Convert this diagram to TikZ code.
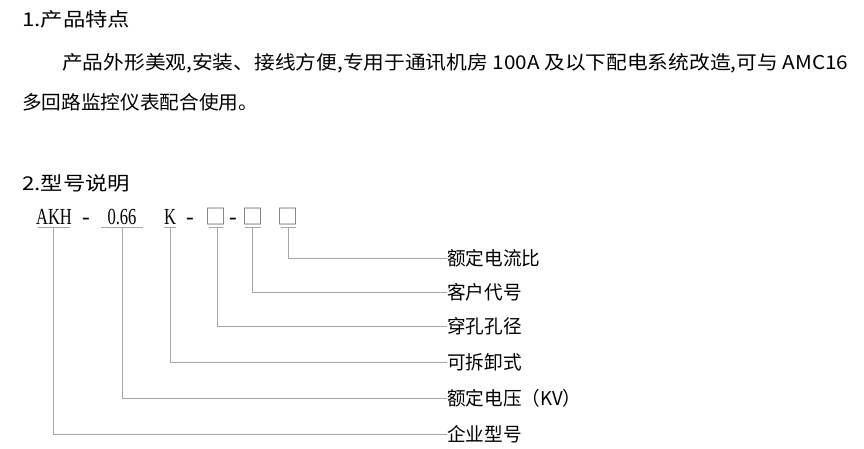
\documentclass[tikz,border=0pt]{standalone}
\usepackage{fontspec}
\setmainfont{Noto Sans CJK SC}
\newfontfamily\codefont{Liberation Serif}
\begin{document}
\begin{tikzpicture}[x=1pt,y=-1pt,
  txt/.style={anchor=base west,inner sep=0pt,font=\fontsize{19}{22}\selectfont},
  code/.style={anchor=base,inner sep=0pt,font=\codefont\fontsize{23}{25}\selectfont},
  bx/.style={anchor=base,inner sep=0pt,font=\fontsize{21}{23}\selectfont,text=gray!80!black},
  ln/.style={draw=gray!70,line width=0.9pt}]
\useasboundingbox[fill=white] (0,0) rectangle (864,449);
\node[txt] (t1) at (22,27) {\resizebox{108pt}{\height}{1.产品特点}};
\node[txt] (t2) at (62,70) {\resizebox{786pt}{\height}{产品外形美观,安装、接线方便,专用于通讯机房 100A 及以下配电系统改造,可与 AMC16}};
\node[txt] (t3) at (22,110) {\resizebox{236pt}{\height}{多回路监控仪表配合使用。}};
\node[txt] (t4) at (22,190) {\resizebox{108pt}{\height}{2.型号说明}};
% code
\node[code] (c1) at (54,224) {\scalebox{0.72}[1]{AKH}};
\node[code] (d1) at (86,224) {-};
\node[code] (c2) at (122,224) {\scalebox{0.72}[1]{0.66}};
\node[code] (c3) at (170,224) {\scalebox{0.72}[1]{K}};
\node[code] (d2) at (190,224) {-};
\node[bx] (c4) at (216,224) {□};
\node[code] (d3) at (233,224) {-};
\node[bx] (c5) at (253,224) {□};
\node[bx] (c6) at (288,224) {□};
% underlines
\foreach \a/\b in {38/70,101/143,164/176,209/223,245/261,281/296}
  \draw[ln] (\a,227) -- (\b,227);
% labels
\foreach \n/\y/\t in {l6/258/额定电流比,l5/292/客户代号,l4/326/穿孔孔径,l3/362/可拆卸式,l2/398/额定电压（KV）,l1/434/企业型号}
  \node[txt,anchor=west] (\n) at (447,\y) {\scalebox{0.98}[1]{\t}};
\foreach \x/\n in {53/l1,122/l2,170/l3,217/l4,252/l5,288/l6}
  \draw[ln] (\x,227) |- (\n.west);
\end{tikzpicture}
\end{document}
